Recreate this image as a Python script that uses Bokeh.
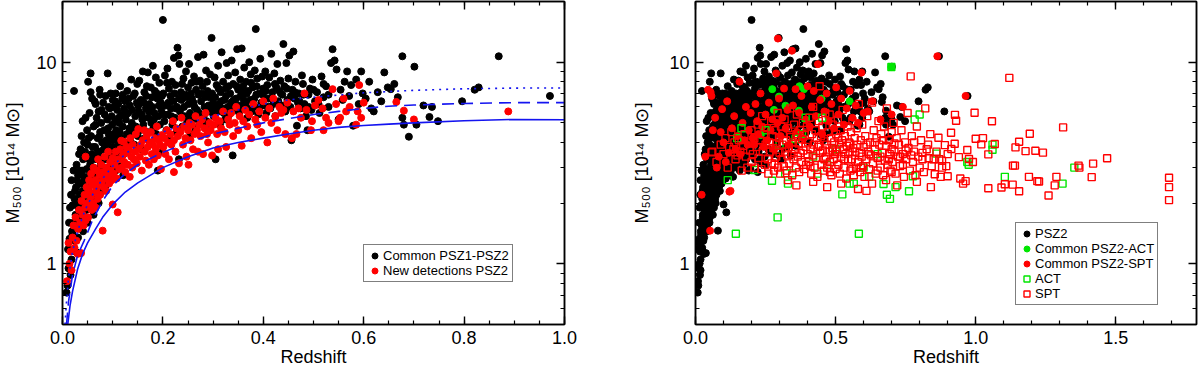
from bokeh.plotting import figure
from bokeh.layouts import row
from bokeh.models import (FixedTicker, NumeralTickFormatter, LinearAxis, LogAxis,
                          Legend, LegendItem, CustomJSTickFormatter, Range1d)
from bokeh.embed import file_html
from bokeh.resources import INLINE

FONT = "Liberation Sans"
BLUE = "#1414f0"
RED = "#ff0000"
GREEN = "#00e600"

# ---------------- data (redshift, M500 [1e14 Msun]) ----------------
common_psz1_psz2 = [
    (0.008,0.72),(0.010,0.78),(0.012,0.95),(0.011,1.18),(0.014,1.33),(0.016,0.88),(0.018,1.05),(0.019,1.45),
    (0.02,1.95),(0.021,1.17),(0.022,1.6),(0.023,7.2),(0.024,2.1),(0.025,1.3),(0.026,1.75),(0.027,2.4),
    (0.028,1.14),(0.029,2.6),(0.03,1.55),(0.017,2.2),(0.013,1.6),(0.028,3.1),
    (0.031,2.75),(0.032,1.9),(0.033,3.5),(0.034,2.2),(0.035,1.65),(0.036,3.7),(0.037,2.5),(0.038,4.3),
    (0.039,2.9),(0.04,5.1),(0.041,3.3),(0.042,2.05),(0.043,4.0),(0.044,2.6),(0.045,3.6),(0.046,5.3),
    (0.047,1.85),(0.048,2.95),(0.049,4.6),(0.05,3.9),(0.051,8.0),(0.052,2.4),(0.053,3.3),(0.054,5.6),
    (0.055,2.8),(0.056,7.1),(0.056,8.8),(0.057,4.3),(0.058,3.5),(0.059,6.6),(0.06,2.2),
    (0.061,3.0),(0.062,4.8),(0.063,2.6),(0.064,6.4),(0.065,3.8),(0.066,4.9),(0.066,6.2),(0.067,2.45),
    (0.068,5.3),(0.069,3.4),(0.07,4.2),(0.071,2.9),(0.072,5.7),(0.073,3.6),(0.074,7.3),(0.075,4.5),
    (0.075,6.9),(0.076,3.1),(0.077,5.0),(0.078,5.8),(0.079,4.0),(0.08,2.7),(0.081,6.3),(0.082,3.7),
    (0.083,4.6),(0.084,5.5),(0.085,3.3),(0.086,6.8),(0.087,4.1),(0.088,2.95),(0.089,5.2),(0.09,8.8),
    (0.09,3.9),(0.091,4.7),(0.092,6.0),(0.093,3.5),(0.094,5.9),(0.095,4.3),(0.096,7.0),(0.097,3.2),
    (0.098,5.4),(0.099,4.9),(0.1,6.5),
    (0.101,3.8),(0.102,4.4),(0.103,6.0),(0.104,3.4),(0.105,5.1),(0.106,7.0),(0.107,4.6),(0.108,3.6),
    (0.109,5.8),(0.11,4.1),(0.111,6.2),(0.112,3.9),(0.113,5.0),(0.114,4.5),(0.115,7.6),(0.116,3.7),
    (0.117,5.5),(0.118,4.2),(0.119,6.6),(0.12,4.8),(0.122,3.5),(0.123,5.9),(0.124,4.0),(0.125,6.4),
    (0.126,5.2),(0.128,4.4),(0.129,7.2),(0.13,3.8),(0.131,5.6),(0.133,4.7),(0.134,6.1),(0.135,4.1),
    (0.137,8.2),(0.138,5.0),(0.14,4.5),(0.141,6.8),(0.143,3.9),(0.145,5.4),(0.146,4.8),(0.148,6.3),
    (0.149,7.8),(0.15,4.3),
    (0.152,5.7),(0.153,8.1),(0.154,4.6),(0.156,6.5),(0.157,3.7),(0.159,5.2),(0.16,9.0),(0.161,4.9),
    (0.163,7.1),(0.164,4.2),(0.166,5.9),(0.167,6.8),(0.169,4.5),(0.17,8.9),(0.171,5.3),(0.173,6.2),
    (0.174,4.0),(0.176,7.5),(0.177,5.0),(0.179,6.0),(0.18,9.6),(0.181,4.7),(0.183,5.6),(0.184,7.2),
    (0.186,8.4),(0.187,4.4),(0.189,6.6),(0.19,2.9),(0.191,5.4),(0.193,7.9),(0.194,4.9),(0.196,6.3),
    (0.197,5.8),(0.199,3.6),(0.2,16.2),
    (0.201,7.0),(0.203,5.1),(0.204,8.6),(0.206,6.1),(0.207,4.6),(0.209,9.3),(0.21,5.5),(0.212,7.4),
    (0.213,4.2),(0.215,6.8),(0.216,5.9),(0.218,8.0),(0.219,4.9),(0.221,6.4),(0.222,10.5),(0.224,5.3),
    (0.225,7.7),(0.227,4.5),(0.228,6.0),(0.229,11.8),(0.231,10.8),(0.232,3.3),(0.233,9.8),(0.234,5.7),
    (0.236,7.1),(0.237,6.5),(0.239,4.8),(0.241,8.3),(0.243,5.4),(0.245,6.9),(0.246,9.0),(0.248,5.0),
    (0.25,7.5),
    (0.251,6.2),(0.252,9.8),(0.254,5.6),(0.255,4.4),(0.257,7.9),(0.258,6.6),(0.26,5.2),(0.262,8.5),
    (0.263,6.0),(0.265,4.7),(0.266,7.3),(0.268,5.8),(0.27,10.6),(0.271,6.9),(0.273,5.0),(0.274,8.1),
    (0.276,6.4),(0.278,4.9),(0.279,7.6),(0.281,10.9),(0.282,5.5),(0.284,6.7),(0.286,9.1),(0.287,5.1),
    (0.289,7.2),(0.291,6.1),(0.292,4.6),(0.294,8.7),(0.296,5.9),(0.297,13.2),(0.298,7.0),(0.3,6.3),
    (0.301,5.4),(0.303,8.4),(0.304,6.7),(0.305,3.3),(0.307,7.7),(0.309,5.7),(0.31,9.6),(0.312,6.2),
    (0.314,4.9),(0.315,7.1),(0.317,11.2),(0.318,5.9),(0.32,8.0),(0.322,6.5),(0.324,5.2),(0.325,7.4),
    (0.327,9.9),(0.329,6.0),(0.33,8.6),(0.332,5.5),(0.334,7.0),(0.335,6.3),(0.337,10.2),(0.339,3.45),
    (0.34,7.8),(0.342,5.8),(0.344,8.9),(0.346,6.6),(0.348,11.6),(0.35,7.3),
    (0.352,5.6),(0.354,8.2),(0.355,6.8),(0.357,11.7),(0.359,5.9),(0.36,7.6),(0.362,9.4),(0.364,6.2),
    (0.366,8.0),(0.368,5.3),(0.37,7.2),(0.372,10.0),(0.374,6.5),(0.375,8.7),(0.377,5.7),(0.379,7.5),
    (0.381,6.0),(0.383,9.1),(0.385,14.6),(0.386,6.9),(0.388,8.3),(0.39,5.5),(0.392,7.0),(0.394,10.4),
    (0.396,6.3),(0.398,8.5),(0.4,7.4),
    (0.402,6.1),(0.404,9.0),(0.406,5.6),(0.408,7.7),(0.41,6.6),(0.412,8.4),(0.414,5.9),(0.416,11.0),
    (0.418,7.1),(0.42,6.2),(0.422,8.8),(0.424,5.4),(0.426,7.5),(0.428,9.8),(0.43,6.4),(0.432,7.2),
    (0.434,8.1),(0.436,5.8),(0.438,6.9),(0.44,12.3),(0.442,7.6),(0.444,5.7),(0.446,9.9),(0.448,6.5),
    (0.45,8.3),
    (0.452,10.8),(0.454,6.0),(0.456,4.1),(0.458,7.3),(0.46,11.3),(0.462,6.6),(0.464,8.0),(0.467,4.84),
    (0.469,6.3),(0.471,7.0),(0.474,5.9),(0.477,8.6),(0.479,7.8),(0.482,6.2),(0.485,5.4),(0.488,4.6),
    (0.49,6.9),(0.493,7.4),(0.496,5.8),(0.498,8.2),
    (0.503,6.4),(0.507,7.1),(0.512,5.6),(0.516,8.5),(0.52,6.7),(0.525,7.6),(0.53,6.0),(0.535,9.9),
    (0.538,11.6),(0.542,10.2),(0.546,9.2),(0.55,5.2),(0.554,7.3),(0.558,6.5),(0.562,8.0),(0.567,9.0),
    (0.571,6.8),(0.575,7.7),(0.579,4.84),(0.585,8.2),(0.59,6.2),(0.595,9.0),(0.598,7.0),
    (0.604,6.6),(0.611,8.0),(0.615,5.9),(0.62,5.7),(0.628,7.1),(0.635,6.4),(0.641,8.9),(0.648,7.5),
    (0.654,7.35),(0.661,7.8),(0.668,6.7),(0.677,10.7),(0.677,5.3),(0.68,4.9),(0.69,4.27),(0.701,9.5),
    (0.705,4.9),(0.719,6.1),(0.731,5.35),(0.736,6.0),(0.748,5.1),(0.796,6.4),(0.821,7.3),(0.829,7.5),
    (0.869,10.7),(0.971,6.8),
    (0.015,1.9),(0.018,2.6),(0.02,1.4),(0.022,2.9),(0.025,2.3),(0.027,1.6),(0.029,2.0),(0.031,1.35),
    (0.033,2.5),(0.035,2.9),(0.036,1.5),(0.038,1.7),(0.04,2.3),(0.041,1.45),(0.043,2.7),(0.044,1.95),
    (0.046,2.2),(0.048,3.4),(0.05,1.6),(0.052,4.2),(0.053,1.9),(0.055,3.1),(0.057,2.1),(0.059,2.55),
    (0.06,3.8),(0.062,1.75),(0.064,3.3),(0.066,2.15),(0.068,2.8),(0.07,3.6),(0.072,2.0),(0.074,4.3),
    (0.076,2.6),(0.078,3.3),(0.08,2.3),(0.082,4.0),(0.084,3.0),(0.086,2.45),(0.088,3.7),(0.09,2.6),
    (0.092,4.4),(0.094,3.0),(0.096,3.6),(0.098,2.7),(0.1,4.1),(0.103,3.2),(0.106,2.9),(0.109,3.4),
    (0.112,4.3),(0.115,3.05),(0.118,3.6),(0.121,2.75),
    (0.105,6.4),(0.112,5.3),(0.12,6.9),(0.127,5.5),(0.132,6.6),(0.139,5.8),(0.144,7.0),(0.151,6.1),
    (0.158,5.5),(0.162,6.3),(0.168,7.6),(0.172,5.7),(0.178,6.7),(0.182,5.2),(0.188,7.0),(0.192,6.1),
    (0.198,6.8),(0.202,5.5),(0.208,7.9),(0.211,6.3),(0.217,5.4),(0.223,7.0),(0.226,5.9),(0.232,6.6),
    (0.238,7.8),(0.242,6.0),(0.247,6.7),(0.253,5.3),(0.256,7.0),(0.261,6.3),(0.267,8.0),(0.272,5.6),
    (0.277,7.0),(0.283,6.0),(0.288,8.0),(0.293,6.7),(0.299,5.6),(0.306,6.0),(0.311,7.4),(0.316,6.4),
    (0.321,5.6),(0.326,6.8),(0.331,7.6),(0.336,5.9),(0.341,6.5),(0.347,7.6),(0.351,6.1),(0.356,7.2),
    (0.361,6.5),(0.367,7.0),(0.371,5.9),(0.376,7.9),(0.382,6.6),(0.387,7.6),(0.393,6.0),(0.399,6.9),
    (0.405,7.2),(0.411,6.0),(0.417,6.6),(0.423,7.8),(0.429,6.3),(0.435,7.0),(0.441,6.1),(0.447,7.4),
    (0.455,6.8),(0.463,7.1),(0.472,6.4),(0.48,6.9),(0.49,6.0),(0.5,7.3),(0.51,6.2),(0.52,7.8),
    (0.53,6.9),
]

new_detections_psz2 = [
    (0.009,0.82),(0.012,1.27),(0.014,1.0),(0.016,1.15),(0.018,0.93),(0.02,1.35),(0.022,1.55),(0.024,1.2),
    (0.026,1.7),(0.028,1.3),(0.03,1.12),(0.031,1.49),(0.033,1.85),(0.035,1.6),(0.037,1.13),(0.038,2.05),
    (0.04,1.75),(0.042,1.55),(0.044,2.2),(0.045,1.9),(0.046,3.4),(0.046,1.64),(0.048,2.4),(0.05,2.0),
    (0.051,1.7),(0.052,2.3),(0.053,2.6),(0.054,1.95),(0.056,2.15),(0.057,2.8),(0.058,1.85),(0.06,2.45),
    (0.061,2.0),(0.062,3.0),(0.063,2.25),(0.065,2.6),(0.066,1.9),(0.068,2.35),(0.069,2.9),(0.07,2.1),
    (0.071,3.3),(0.072,2.5),(0.074,2.75),(0.075,2.2),(0.077,3.1),(0.078,2.55),(0.08,1.46),(0.081,2.85),
    (0.082,2.4),(0.084,3.4),(0.085,2.65),(0.087,2.3),(0.088,3.0),(0.09,2.75),(0.091,3.6),(0.093,2.5),
    (0.095,3.2),(0.096,2.9),(0.098,2.6),(0.1,1.97),(0.1,3.35),
    (0.102,2.8),(0.104,3.1),(0.106,3.6),(0.108,2.65),(0.11,1.8),(0.111,3.3),(0.113,2.95),(0.115,3.7),
    (0.117,4.08),(0.118,3.0),(0.12,3.45),(0.122,4.03),(0.123,3.2),(0.125,2.85),(0.127,3.55),(0.128,3.8),
    (0.13,3.1),(0.132,3.65),(0.134,2.7),(0.135,4.2),(0.137,3.4),(0.139,3.0),(0.14,3.9),(0.142,3.3),
    (0.144,3.6),(0.146,4.4),(0.148,3.15),(0.151,4.66),(0.152,3.7),(0.154,3.4),(0.156,3.9),(0.158,2.9),
    (0.16,4.1),(0.163,4.6),(0.164,3.6),(0.166,3.25),(0.168,4.3),(0.17,3.8),(0.172,3.1),(0.174,4.0),
    (0.176,4.5),(0.178,3.5),(0.18,3.9),(0.182,3.3),(0.184,4.2),(0.186,3.7),(0.188,4.8),(0.19,3.45),
    (0.192,4.1),(0.194,3.9),(0.196,2.95),(0.198,4.35),
    (0.201,3.8),(0.203,4.2),(0.205,3.5),(0.208,4.6),(0.21,4.0),(0.212,3.3),(0.215,4.4),(0.217,3.9),
    (0.22,5.1),(0.222,4.1),(0.222,2.85),(0.225,3.6),(0.227,4.7),(0.23,4.3),(0.232,3.15),(0.235,4.5),
    (0.237,5.3),(0.24,3.9),(0.242,4.8),(0.245,4.2),(0.247,3.4),(0.25,4.6),(0.251,3.1),(0.253,5.0),
    (0.255,4.1),(0.258,4.9),(0.26,3.7),(0.263,4.4),(0.265,5.4),(0.268,4.6),(0.27,3.6),(0.273,4.9),
    (0.275,4.3),(0.278,5.2),(0.28,3.5),(0.283,4.7),(0.285,5.6),(0.288,4.4),(0.29,4.0),(0.293,5.0),
    (0.295,4.6),(0.298,3.45),
    (0.302,4.9),(0.305,5.3),(0.308,4.4),(0.31,3.7),(0.313,5.1),(0.316,4.7),(0.32,5.7),(0.323,4.5),
    (0.326,3.8),(0.33,5.2),(0.333,4.9),(0.336,5.6),(0.34,4.3),(0.343,5.0),(0.346,6.0),(0.35,4.6),
    (0.353,5.4),(0.357,3.85),(0.36,5.1),(0.364,5.8),(0.368,4.8),(0.372,5.5),(0.376,4.2),(0.38,6.2),
    (0.384,5.2),(0.388,4.9),(0.392,5.7),(0.396,4.5),(0.4,6.4),(0.404,5.3),(0.408,4.0),(0.412,5.9),
    (0.416,5.0),(0.42,6.6),(0.424,5.4),(0.428,4.6),(0.432,6.0),(0.436,5.6),(0.44,5.8),(0.444,4.4),
    (0.448,6.3),
    (0.457,4.2),(0.46,5.7),(0.466,4.4),(0.47,5.9),(0.475,5.3),(0.482,7.0),(0.486,5.8),(0.495,4.6),
    (0.497,5.1),(0.503,6.1),(0.51,6.5),(0.518,5.9),(0.52,4.6),(0.525,5.3),(0.53,5.0),(0.538,7.35),
    (0.545,6.2),(0.55,5.1),(0.553,5.3),(0.56,6.6),(0.565,5.7),(0.572,6.0),(0.585,4.9),(0.588,5.7),
    (0.591,7.7),(0.595,5.3),(0.6,6.3),(0.665,6.35),(0.68,5.75),(0.7,5.2),(0.888,5.7),
]

# mass-limit curves (left panel)
solid_z = [0.0105,0.015,0.02,0.03,0.04,0.05,0.066,0.08,0.1,0.125,0.15,0.2,0.25,0.3,0.35,0.4,0.45,0.5,0.55,0.6,0.65,0.7,0.8,0.9,1.0]
solid_m = [0.5,0.62,0.73,0.94,1.12,1.27,1.49,1.7,1.97,2.27,2.52,3.0,3.4,3.75,4.0,4.2,4.4,4.6,4.75,4.85,4.93,5.0,5.12,5.2,5.18]
dashed_z = [0.008,0.012,0.02,0.03,0.043,0.06,0.08,0.1,0.125,0.15,0.2,0.25,0.3,0.35,0.4,0.45,0.5,0.55,0.6,0.65,0.7,0.8,0.9,1.0]
dashed_m = [0.5,0.65,0.88,1.1,1.3,1.65,2.05,2.44,2.8,3.1,3.57,4.0,4.4,4.7,5.0,5.25,5.5,5.7,5.9,6.05,6.13,6.24,6.3,6.3]
dotted_z = [0.005,0.008,0.012,0.02,0.03,0.045,0.06,0.08,0.1,0.125,0.15,0.2,0.25,0.3,0.35,0.4,0.45,0.5,0.6,0.7,0.8,0.9,1.0]
dotted_m = [0.5,0.65,0.85,1.15,1.45,1.85,2.2,2.65,3.05,3.5,3.9,4.5,5.0,5.4,5.8,6.2,6.5,6.7,7.05,7.25,7.38,7.44,7.45]

# right panel
common_psz2_act = [
    (0.233,4.35),(0.274,7.35),(0.28,5.8),(0.298,6.75),(0.321,6.08),(0.369,5.75),(0.371,7.6),
    (0.387,7.35),(0.45,6.6),(0.55,6.4),(0.699,9.46),
]

common_psz2_spt = [
    (0.022,2.2),(0.035,3.4),(0.045,7.3),(0.052,1.46),(0.054,7.1),(0.057,6.8),(0.062,4.6),(0.07,5.3),
    (0.076,3.0),(0.083,3.4),(0.09,4.5),(0.095,5.85),(0.1,4.0),(0.108,3.2),(0.113,6.4),(0.119,3.55),
    (0.121,2.28),(0.125,2.3),(0.13,4.7),(0.138,5.4),(0.143,3.7),(0.15,4.3),(0.157,8.0),(0.16,3.5),
    (0.168,5.0),(0.175,4.1),(0.18,6.0),(0.186,3.9),(0.19,4.6),(0.197,5.6),(0.204,4.2),(0.21,3.9),
    (0.214,6.2),(0.22,5.1),(0.225,4.4),(0.232,7.0),(0.238,4.8),(0.244,3.8),(0.25,5.5),(0.256,4.1),
    (0.262,6.3),(0.268,4.6),(0.274,5.2),(0.28,3.7),(0.288,8.8),(0.292,5.0),(0.294,13.1),(0.298,6.6),
    (0.304,4.3),(0.31,5.3),(0.316,7.4),(0.322,4.7),(0.328,5.8),(0.335,3.9),(0.344,11.4),(0.348,6.1),
    (0.357,7.35),(0.362,4.5),(0.37,5.6),(0.378,6.8),(0.385,4.2),(0.393,5.2),(0.4,7.6),(0.408,4.8),
    (0.415,6.0),(0.422,7.2),(0.43,5.4),(0.437,9.78),(0.445,6.5),(0.452,4.4),(0.46,5.7),(0.468,7.0),
    (0.476,5.1),(0.485,6.2),(0.494,4.7),(0.502,7.5),(0.51,5.5),(0.52,6.6),(0.53,4.9),(0.54,5.9),
    (0.55,7.2),(0.56,5.3),(0.572,6.1),(0.58,5.0),(0.592,8.87),(0.6,5.6),(0.615,5.7),(0.63,6.4),
    (0.66,5.2),(0.7,5.5),(0.74,6.0),(0.863,10.7),(0.964,6.8),
]

act_clusters = [
    (0.115,2.6),(0.144,1.41),(0.149,4.2),(0.164,4.7),(0.21,2.92),(0.25,4.6),(0.273,2.58),(0.293,1.7),
    (0.3,3.9),(0.32,2.81),(0.33,2.5),(0.345,2.81),(0.357,4.16),(0.38,4.4),(0.393,5.3),(0.42,3.4),
    (0.435,2.8),(0.452,5.3),(0.47,3.1),(0.5,3.7),(0.524,2.21),(0.55,2.5),(0.565,2.5),(0.583,1.41),
    (0.6,3.0),(0.62,2.7),(0.65,3.5),(0.671,2.49),(0.683,2.2),(0.694,2.1),(0.699,9.46),(0.714,2.4),
    (0.762,2.29),(0.782,5.2),(0.776,2.72),(0.8,5.5),(0.86,3.52),(0.97,3.2),(0.975,3.1),(1.06,3.9),
    (1.06,3.68),(1.104,2.7),(1.31,2.5),(1.352,3.0),
]

spt_clusters = [
    (0.057,3.57),(0.06,3.6),(0.075,3.2),(0.09,3.9),(0.1,3.5),(0.107,4.2),(0.115,3.0),(0.12,3.8),
    (0.128,4.5),(0.135,3.7),(0.139,4.0),(0.143,3.3),(0.15,3.45),(0.155,4.1),(0.16,3.6),(0.165,2.9),
    (0.17,3.85),(0.175,4.4),(0.18,3.4),(0.185,3.0),(0.19,4.0),(0.195,3.65),(0.2,4.6),(0.2,3.2),
    (0.205,3.5),(0.21,4.2),(0.212,3.0),(0.218,3.8),(0.222,4.9),(0.225,3.35),(0.23,4.1),(0.235,2.95),
    (0.238,5.4),(0.24,3.6),(0.245,4.4),(0.248,3.1),(0.25,3.9),(0.255,4.7),(0.258,3.3),(0.26,2.8),
    (0.264,4.0),(0.267,3.6),(0.27,5.1),(0.272,3.15),(0.275,4.3),(0.278,3.75),(0.28,2.9),(0.282,3.1),
    (0.285,4.6),(0.288,3.4),(0.29,3.95),(0.293,5.6),(0.295,3.0),(0.298,4.2),(0.3,3.55),
    (0.302,2.8),(0.305,4.8),(0.307,3.3),(0.31,3.9),(0.312,4.4),(0.315,3.05),(0.318,5.2),(0.32,3.6),
    (0.323,4.1),(0.325,2.9),(0.328,3.45),(0.33,4.7),(0.333,3.8),(0.335,3.15),(0.338,5.9),(0.34,4.25),
    (0.343,3.5),(0.345,2.75),(0.348,4.0),(0.35,3.3),(0.352,4.9),(0.355,3.7),(0.358,3.0),(0.36,4.4),
    (0.362,5.5),(0.365,3.4),(0.368,3.95),(0.37,2.85),(0.372,4.6),(0.375,3.55),(0.378,3.2),(0.38,4.15),
    (0.383,5.0),(0.385,3.65),(0.388,2.95),(0.39,4.35),(0.393,3.8),(0.395,3.1),(0.398,4.8),(0.4,3.5),
    (0.402,4.0),(0.405,3.2),(0.407,5.3),(0.41,3.7),(0.413,2.8),(0.415,4.4),(0.418,3.45),(0.42,6.0),
    (0.422,3.9),(0.425,3.0),(0.428,4.6),(0.43,3.35),(0.433,4.2),(0.435,2.7),(0.438,3.8),(0.44,5.1),
    (0.443,7.6),(0.445,3.55),(0.448,4.3),(0.45,3.1),(0.453,4.8),(0.455,3.65),(0.458,2.9),(0.46,4.05),
    (0.463,5.6),(0.465,3.4),(0.468,3.9),(0.47,3.0),(0.473,4.5),(0.475,3.6),(0.479,5.5),(0.48,3.2),
    (0.483,4.2),(0.485,2.75),(0.488,3.75),(0.49,4.9),(0.493,3.3),(0.495,4.0),(0.498,3.5),(0.5,2.95),
    (0.502,4.4),(0.505,3.6),(0.508,5.2),(0.51,3.1),(0.513,3.95),(0.515,2.8),(0.518,4.6),(0.52,3.4),
    (0.523,4.1),(0.525,5.8),(0.528,3.7),(0.53,3.0),(0.533,4.3),(0.535,3.5),(0.538,2.65),(0.54,3.85),
    (0.543,4.8),(0.545,3.25),(0.548,4.0),(0.55,3.6),(0.553,2.9),(0.555,4.5),(0.558,3.3),(0.56,5.1),
    (0.563,3.75),(0.565,2.75),(0.568,4.2),(0.57,3.45),(0.573,3.0),(0.575,4.7),(0.578,3.9),(0.58,3.2),
    (0.583,6.2),(0.585,3.55),(0.588,2.85),(0.59,4.1),(0.593,3.4),(0.595,4.9),(0.598,3.05),(0.6,3.8),
    (0.603,2.7),(0.606,4.3),(0.61,3.3),(0.613,5.4),(0.616,3.6),(0.62,2.95),(0.623,4.0),(0.626,3.45),
    (0.63,6.3),(0.633,3.15),(0.636,4.6),(0.64,3.7),(0.643,2.8),(0.646,4.2),(0.65,3.35),(0.653,5.1),
    (0.656,3.9),(0.66,3.0),(0.663,4.4),(0.666,3.55),(0.67,2.75),(0.673,4.8),(0.676,3.25),(0.68,3.85),
    (0.683,5.9),(0.686,3.1),(0.69,4.1),(0.693,3.5),(0.696,2.9),(0.7,4.5),(0.7,3.7),
    (0.703,3.2),(0.707,5.0),(0.71,3.6),(0.714,2.8),(0.718,4.2),(0.722,3.4),(0.726,3.9),(0.73,3.05),
    (0.735,4.6),(0.74,3.5),(0.744,2.7),(0.748,4.0),(0.752,3.3),(0.757,5.6),(0.76,3.75),(0.765,2.9),
    (0.768,8.5),(0.772,4.3),(0.776,3.2),(0.78,3.6),(0.785,2.75),(0.79,4.8),(0.795,3.4),(0.8,3.0),
    (0.805,4.1),(0.81,3.55),(0.815,2.85),(0.82,5.9),(0.825,3.7),(0.832,3.34),(0.838,4.4),(0.843,3.05),
    (0.85,3.3),(0.854,2.78),(0.867,4.22),(0.87,3.3),(0.875,2.7),(0.88,3.25),(0.89,3.88),(0.895,3.05),
    (0.9,2.72),(0.912,4.47),(0.913,3.71),(0.925,3.94),(0.926,5.48),(0.93,5.12),(0.94,3.38),(0.945,2.65),
    (0.955,2.5),(0.964,2.57),(0.97,3.67),(0.976,3.31),(0.99,3.2),(0.996,5.61),(1.0,4.17),(1.02,3.91),
    (1.026,4.2),(1.045,3.49),(1.045,2.37),(1.058,5.09),(1.068,3.93),(1.092,2.39),(1.104,2.48),(1.12,8.36),
    (1.132,2.47),(1.133,3.07),(1.14,3.07),(1.142,3.78),(1.155,4.03),(1.155,2.29),(1.178,3.62),(1.19,2.7),
    (1.193,4.42),(1.213,3.64),(1.22,2.57),(1.226,2.56),(1.24,3.56),(1.26,2.18),(1.282,2.45),(1.288,2.7),
    (1.312,4.75),(1.367,3.07),(1.37,3.0),(1.414,2.69),(1.419,3.14),(1.469,3.34),(1.69,2.67),(1.69,2.4),
    (1.69,2.07),
    (0.33,2.6),(0.36,2.45),(0.42,2.55),(0.47,2.4),(0.52,2.5),(0.58,2.35),(0.61,2.3),(0.63,2.5),
    (0.68,2.6),(0.72,2.45),(0.79,2.55),(0.84,2.4),
    (0.41,3.05),(0.44,3.9),(0.46,3.3),(0.49,3.65),(0.51,4.2),(0.53,3.3),(0.55,3.95),(0.57,3.6),
    (0.59,3.0),(0.61,3.9),(0.62,3.5),(0.64,4.0),(0.66,3.4),(0.67,4.1),(0.69,3.3),(0.71,3.95),
    (0.73,3.4),(0.75,3.65),(0.77,3.45),(0.78,4.0),(0.81,3.3),(0.83,3.9),(0.86,3.6),(0.88,3.0),
    (0.9,3.5),(0.74,3.1),(0.7,2.85),(0.65,2.9),(0.56,2.95),(0.48,2.85),
]

Y_TICKS = [1, 10]
Y_MINOR = [0.5, 0.6, 0.7, 0.8, 0.9, 2, 3, 4, 5, 6, 7, 8, 9, 20]
LEFT_X_TICKS = [0.0, 0.2, 0.4, 0.6, 0.8, 1.0]
LEFT_X_MINOR = [round(0.05 * i, 2) for i in range(21)]
RIGHT_X_TICKS = [0.0, 0.5, 1.0, 1.5]
RIGHT_X_MINOR = [round(0.1 * i, 1) for i in range(18)]
Y_LABEL = "M\u2085\u2080\u2080 [10\u00b9\u2074 M\u2299]"


def unzip(pts):
    return [p[0] for p in pts], [p[1] for p in pts]


FH = 323


def make_fig(xmax, fw, bl, br, xticks, xminor, label_standoff):
    p = figure(frame_width=fw, frame_height=FH, x_range=Range1d(0, xmax),
               y_range=Range1d(0.5, 20), y_axis_type="log",
               output_backend="svg", toolbar_location=None,
               min_border_left=bl, min_border_right=br,
               min_border_top=1, min_border_bottom=48)
    p.grid.visible = False
    p.outline_line_color = "black"
    p.outline_line_width = 1.5
    bottom = p.below[0]
    leftax = p.left[0]
    xt = FixedTicker(ticks=xticks, minor_ticks=xminor)
    yt = FixedTicker(ticks=Y_TICKS, minor_ticks=Y_MINOR)
    bottom.ticker = xt
    leftax.ticker = yt
    bottom.formatter = NumeralTickFormatter(format="0.0")
    leftax.formatter = NumeralTickFormatter(format="0")
    bottom.axis_label = "Redshift"
    leftax.axis_label = Y_LABEL
    top = LinearAxis(ticker=xt, formatter=CustomJSTickFormatter(code="return ''"))
    right = LogAxis(ticker=yt, formatter=CustomJSTickFormatter(code="return ''"))
    p.add_layout(top, "above")
    p.add_layout(right, "right")
    for ax in [bottom, leftax, top, right]:
        ax.axis_line_color = "black"
        ax.axis_line_width = 1.5
        ax.major_tick_line_color = "black"
        ax.minor_tick_line_color = "black"
        ax.major_tick_line_width = 1.4
        ax.minor_tick_line_width = 1.2
        ax.major_tick_in = 8
        ax.major_tick_out = 0
        ax.minor_tick_in = 4
        ax.minor_tick_out = 0
        ax.major_label_text_font = FONT
        ax.major_label_text_font_size = "18px"
        ax.major_label_text_color = "black"
        ax.axis_label_text_font = FONT
        ax.axis_label_text_font_size = "18px"
        ax.axis_label_text_font_style = "normal"
        ax.axis_label_text_color = "black"
    for ax in [top, right]:
        ax.major_label_standoff = 0
        ax.major_label_text_font_size = "1px"
    bottom.major_label_standoff = 6
    bottom.axis_label_standoff = 0
    leftax.major_label_standoff = 6
    leftax.axis_label_standoff = label_standoff
    return p


def style_legend(leg):
    leg.label_text_font = FONT
    leg.label_text_font_size = "13px"
    leg.label_text_color = "black"
    leg.glyph_height = 15
    leg.glyph_width = 15
    leg.label_height = 13
    leg.label_standoff = 1
    leg.spacing = 0
    leg.padding = 3
    leg.margin = 0
    leg.border_line_color = "black"
    leg.border_line_width = 1.2
    leg.background_fill_color = "white"
    leg.background_fill_alpha = 1.0


# ---------------- left panel ----------------
left = make_fig(1.0, 502, 61, 30, LEFT_X_TICKS, LEFT_X_MINOR, 10)
bz, bm = unzip(common_psz1_psz2)
rz, rm = unzip(new_detections_psz2)
r_black = left.scatter(bz, bm, marker="circle", size=7, fill_color="black", line_color="black")
r_red = left.scatter(rz, rm, marker="circle", size=7, fill_color=RED, line_color=RED)
left.line(dotted_z, dotted_m, line_color=BLUE, line_width=1.6, line_dash="2 5")
left.line(dashed_z, dashed_m, line_color=BLUE, line_width=1.6, line_dash="12 7")
left.line(solid_z, solid_m, line_color=BLUE, line_width=1.6)

leg_l = Legend(items=[LegendItem(label="Common PSZ1-PSZ2", renderers=[r_black]),
                      LegendItem(label="New detections PSZ2", renderers=[r_red])],
               location=(301, 42))
style_legend(leg_l)
left.add_layout(leg_l)

# ---------------- right panel ----------------
right = make_fig(1.788, 501, 101, 2, RIGHT_X_TICKS, RIGHT_X_MINOR, 14)
pz = bz + rz
pm = bm + rm
gz, gm = unzip(common_psz2_act)
sz, sm = unzip(common_psz2_spt)
az, am = unzip(act_clusters)
tz, tm = unzip(spt_clusters)
r_psz2 = right.scatter(pz, pm, marker="circle", size=7, fill_color="black", line_color="black")
r_gf = right.scatter(gz, gm, marker="circle", size=7, fill_color=GREEN, line_color=GREEN)
r_rf = right.scatter(sz, sm, marker="circle", size=7, fill_color=RED, line_color=RED)
r_act = right.scatter(az, am, marker="square", size=7, fill_color=None, line_color=GREEN, line_width=1.4)
r_spt = right.scatter(tz, tm, marker="square", size=7, fill_color=None, line_color=RED, line_width=1.4)

leg_r = Legend(items=[LegendItem(label="PSZ2", renderers=[r_psz2]),
                      LegendItem(label="Common PSZ2-ACT", renderers=[r_gf]),
                      LegendItem(label="Common PSZ2-SPT", renderers=[r_rf]),
                      LegendItem(label="ACT", renderers=[r_act]),
                      LegendItem(label="SPT", renderers=[r_spt])],
               location=(320, 19))
style_legend(leg_r)
right.add_layout(leg_r)

layout = row(left, right)
open("out.html", "w").write(file_html(layout, INLINE))
